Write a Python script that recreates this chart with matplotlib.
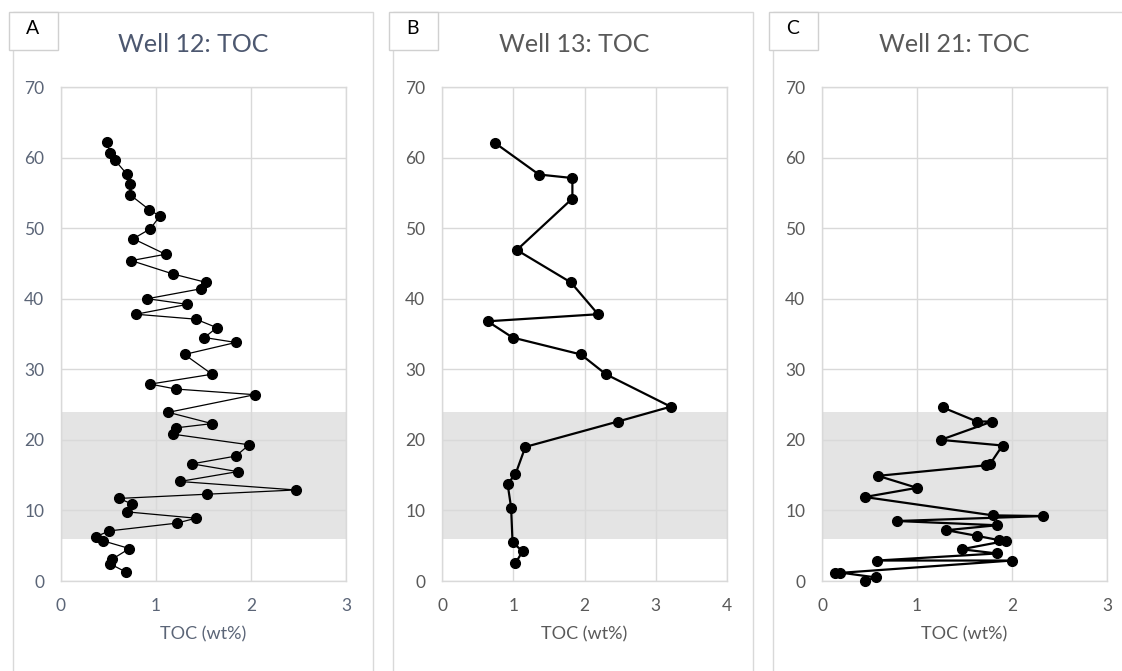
import matplotlib
matplotlib.use("Agg")
import matplotlib.pyplot as plt
from matplotlib.patches import Rectangle

plt.rcParams['font.family'] = ['Lato', 'DejaVu Sans']

# Well 12 (panel A)
toc_12 = [0.48, 0.52, 0.57, 0.69, 0.73, 0.73, 0.93, 1.04, 0.94, 0.76,
          1.10, 0.74, 1.18, 1.53, 1.47, 0.91, 1.33, 0.79, 1.42, 1.64,
          1.51, 1.84, 1.30, 1.59, 0.94, 1.21, 2.04, 1.13, 1.59, 1.21,
          1.18, 1.98, 1.84, 1.38, 1.86, 1.25, 2.47, 1.54, 0.61, 0.75,
          0.69, 1.42, 1.22, 0.51, 0.37, 0.44, 0.72, 0.54, 0.52, 0.68]
depth_12 = [62.2, 60.6, 59.6, 57.7, 56.3, 54.7, 52.6, 51.7, 49.9, 48.5,
            46.3, 45.4, 43.5, 42.3, 41.4, 40.0, 39.2, 37.8, 37.1, 35.9,
            34.5, 33.8, 32.1, 29.3, 27.9, 27.2, 26.4, 23.9, 22.3, 21.7,
            20.8, 19.3, 17.7, 16.6, 15.5, 14.1, 12.9, 12.3, 11.7, 10.9,
            9.8, 8.9, 8.2, 7.1, 6.3, 5.7, 4.6, 3.1, 2.4, 1.3]

# Well 13 (panel B)
toc_13 = [0.74, 1.36, 1.83, 1.83, 1.05, 1.81, 2.19, 0.64, 0.99, 1.95,
          2.30, 3.21, 2.47, 1.17, 1.03, 0.92, 0.97, 0.99, 1.13, 1.03]
depth_13 = [62.1, 57.6, 57.1, 54.2, 46.9, 42.3, 37.8, 36.8, 34.5, 32.1,
            29.3, 24.7, 22.6, 19.0, 15.1, 13.8, 10.4, 5.5, 4.2, 2.5]

# Well 21 (panel C)
toc_21 = [1.27, 1.63, 1.79, 1.25, 1.90, 1.77, 1.73, 0.59, 1.00, 0.45,
          1.80, 2.33, 0.79, 1.84, 1.31, 1.63, 1.86, 1.94, 1.47, 1.84,
          0.58, 2.00, 0.14, 0.19, 0.57, 0.45]
depth_21 = [24.6, 22.6, 22.6, 20.0, 19.2, 16.6, 16.4, 14.9, 13.2, 11.9,
            9.3, 9.2, 8.5, 7.9, 7.2, 6.4, 5.8, 5.7, 4.5, 3.9,
            2.9, 2.9, 1.1, 1.2, 0.5, 0.0]

band = (6, 24)

panels = [
    dict(letter="A", title="Well 12: TOC", x=toc_12, y=depth_12, xmax=3, lw=0.9,
         left=61, frame=13, color="#4d5870", tcolor="#5b6577"),
    dict(letter="B", title="Well 13: TOC", x=toc_13, y=depth_13, xmax=4, lw=1.6,
         left=442, frame=393, color="#595959", tcolor="#595959"),
    dict(letter="C", title="Well 21: TOC", x=toc_21, y=depth_21, xmax=3, lw=1.6,
         left=822, frame=773, color="#595959", tcolor="#595959"),
]

W, H = 1122, 671
fig = plt.figure(figsize=(W / 100, H / 100), dpi=100)

for p in panels:
    # chart frame (behind the axes)
    fig.patches.append(Rectangle((p["frame"] / W, -0.05), 360 / W, (H - 12) / H + 0.05,
                                 transform=fig.transFigure, facecolor="white",
                                 edgecolor="#d9d9d9", lw=1.0, zorder=-5))
    # letter box
    fig.patches.append(Rectangle(((p["frame"] - 4) / W, (H - 50) / H), 49 / W, 38 / H,
                                 transform=fig.transFigure, facecolor="white",
                                 edgecolor="#d0d0d0", lw=1.0, zorder=2))
    fig.text((p["frame"] + 20) / W, (H - 29) / H, p["letter"], fontsize=14,
             ha="center", va="center", color="black", zorder=3)

    ax = fig.add_axes([p["left"] / W, (H - 581) / H, 285 / W, 494 / H])
    ax.set_facecolor("none")
    ax.axhspan(band[0], band[1], color="#e4e4e4", zorder=0.3, lw=0)
    ax.plot(p["x"], p["y"], color="black", lw=p["lw"], marker="o", ms=7,
            zorder=3, clip_on=False)
    ax.set_xlim(0, p["xmax"])
    ax.set_ylim(0, 70)
    ax.set_xticks(range(0, p["xmax"] + 1))
    ax.set_yticks(range(0, 71, 10))
    ax.set_axisbelow(True)
    ax.grid(True, color="#d9d9d9", lw=1.0)
    for s in ax.spines.values():
        s.set_color("#d9d9d9")
        s.set_linewidth(1.0)
    ax.tick_params(length=0, labelsize=12.5, colors=p["tcolor"])
    ax.tick_params(axis="x", pad=12)
    ax.tick_params(axis="y", pad=12)
    ax.set_xlabel("TOC (wt%)", fontsize=13, color=p["tcolor"], labelpad=9)
    fig.text((p["left"] + 132) / W, (H - 44) / H, p["title"], fontsize=18,
             ha="center", va="center", color=p["color"])

fig.savefig("out.png", dpi=100, facecolor="white")
